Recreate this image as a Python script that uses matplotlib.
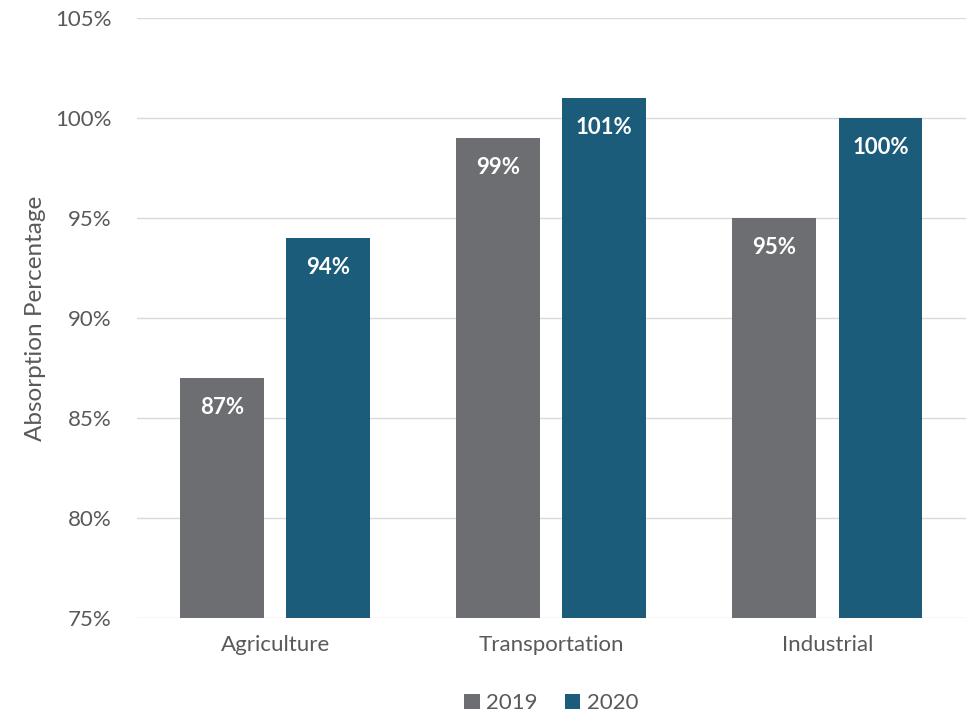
import matplotlib.pyplot as plt
import numpy as np
from matplotlib.ticker import FuncFormatter

plt.rcParams["font.family"] = ["Lato", "DejaVu Sans"]

categories = ["Agriculture", "Transportation", "Industrial"]
years = ["2019", "2020"]
values_2019 = [87, 99, 95]
values_2020 = [94, 101, 100]

colors = ["#6D6E71", "#1A5C7A"]
text_color = "#595959"

fig = plt.figure(figsize=(9.68, 7.16), dpi=100)
ax = fig.add_axes([0.1415, 0.137, 0.856, 0.838])

x = np.arange(len(categories))
width = 0.304
offset = 0.192

for vals, dx, color, label in zip([values_2019, values_2020], [-offset, offset], colors, years):
    bars = ax.bar(x + dx, vals, width=width, color=color, label=label, zorder=3)
    for b, v in zip(bars, vals):
        ax.annotate(f"{v}%", (b.get_x() + b.get_width() / 2, v),
                    xytext=(0, -21.5), textcoords="offset points",
                    ha="center", va="center", color="white",
                    fontsize=16, fontweight="bold", zorder=4)

ax.set_ylim(75, 105)
ax.set_xlim(-0.5, 2.5)
ax.set_yticks(np.arange(75, 106, 5))
ax.yaxis.set_major_formatter(FuncFormatter(lambda v, p: f"{v:.0f}%"))
ax.set_xticks(x)
ax.set_xticklabels(categories)
ax.grid(axis="y", color="#D9D9D9", linewidth=1, zorder=0)
for s in ax.spines.values():
    s.set_visible(False)
ax.tick_params(length=0, labelsize=16, colors=text_color, pad=18)
ax.tick_params(axis="x", pad=12)
ax.set_ylabel("Absorption Percentage", fontsize=17.5, color=text_color, labelpad=7)

ax.legend(loc="center", bbox_to_anchor=(0.5, -0.142), ncol=2, frameon=False,
          fontsize=16, labelcolor=text_color, handlelength=0.7, handleheight=0.7,
          handletextpad=0.3, columnspacing=1.2)

plt.savefig("out.png", dpi=100)
